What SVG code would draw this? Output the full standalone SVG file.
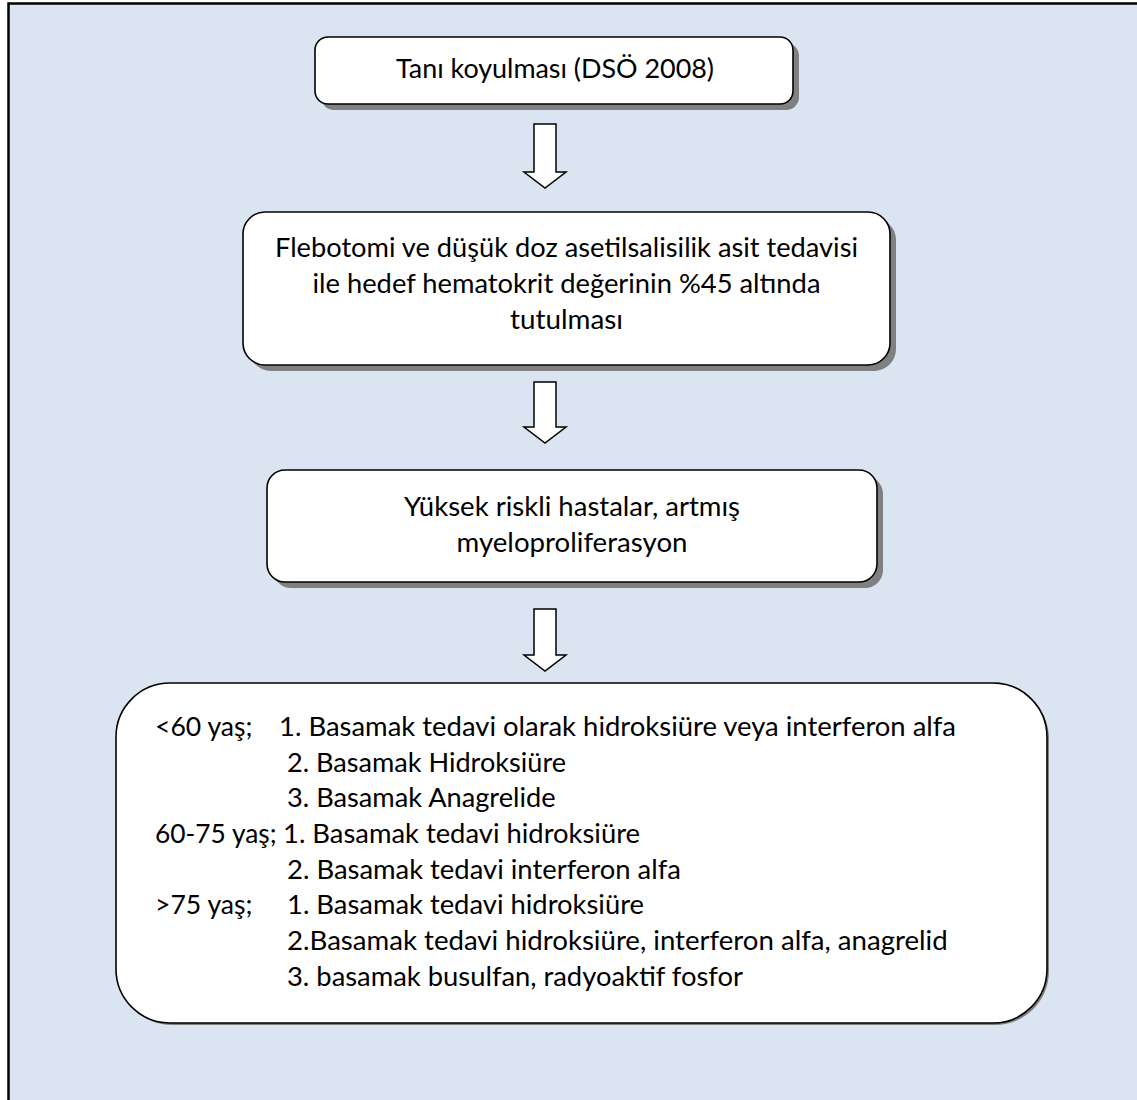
<svg xmlns="http://www.w3.org/2000/svg" width="1137" height="1100" viewBox="0 0 1137 1100">
<style>
.bg{fill:#dbe5f1;stroke:#000;stroke-width:2.5}
.box{fill:#fff;stroke:#000;stroke-width:1.6}
.sh{fill:#808080}
.arr{fill:#fff;stroke:#000;stroke-width:1.5;stroke-linejoin:miter}
text{font-family:Lato,"Open Sans","Liberation Sans",sans-serif;font-size:26.5px;fill:#000}
.c{text-anchor:middle}
</style>
<rect x="0" y="0" width="1137" height="1100" fill="#fff"/>
<rect class="bg" x="8.5" y="3.5" width="1140" height="1110"/>
<g id="connectors">
<polygon class="arr" points="534,124 556,124 556,172 566,172 545,188 524,172 534,172"/>
<polygon class="arr" points="534,382 556,382 556,427 566,427 545,443 524,427 534,427"/>
<polygon class="arr" points="534,609 556,609 556,655 566,655 545,671 524,655 534,655"/>
</g>
<g id="node1">
<rect class="sh" x="321" y="43" width="478" height="67" rx="13"/>
<rect class="box" x="315" y="37" width="478" height="67" rx="13"/>
<text class="c" x="555" y="78" textLength="318" lengthAdjust="spacingAndGlyphs">Tanı koyulması (DSÖ 2008)</text>
</g>
<g id="node2">
<rect class="sh" x="249" y="218" width="647" height="153" rx="22"/>
<rect class="box" x="243" y="212" width="647" height="153" rx="22"/>
<text class="c" x="566.5" y="257" textLength="583" lengthAdjust="spacingAndGlyphs">Flebotomi ve düşük doz asetilsalisilik asit tedavisi</text>
<text class="c" x="566.5" y="293" textLength="508" lengthAdjust="spacingAndGlyphs">ile hedef hematokrit değerinin %45 altında</text>
<text class="c" x="566.5" y="329" textLength="113" lengthAdjust="spacingAndGlyphs">tutulması</text>
</g>
<g id="node3">
<rect class="sh" x="273" y="476" width="610" height="112" rx="18"/>
<rect class="box" x="267" y="470" width="610" height="112" rx="18"/>
<text class="c" x="572" y="516" textLength="336" lengthAdjust="spacingAndGlyphs">Yüksek riskli hastalar, artmış</text>
<text class="c" x="572" y="552" textLength="231" lengthAdjust="spacingAndGlyphs">myeloproliferasyon</text>
</g>
<g id="node4">
<rect class="sh" x="118" y="685" width="931" height="340" rx="54"/>
<rect class="box" x="116" y="683" width="931" height="340" rx="54"/>
<text x="155" y="736" textLength="97.5" lengthAdjust="spacingAndGlyphs">&lt;60 yaş;</text>
<text x="279" y="736" textLength="677" lengthAdjust="spacingAndGlyphs">1. Basamak tedavi olarak hidroksiüre veya interferon alfa</text>
<text x="287" y="771.5" textLength="279" lengthAdjust="spacingAndGlyphs">2. Basamak Hidroksiüre</text>
<text x="287" y="807" textLength="268.6" lengthAdjust="spacingAndGlyphs">3. Basamak Anagrelide</text>
<text x="155" y="843" textLength="121.6" lengthAdjust="spacingAndGlyphs">60-75 yaş;</text>
<text x="283" y="843" textLength="357" lengthAdjust="spacingAndGlyphs">1. Basamak tedavi hidroksiüre</text>
<text x="287" y="878.5" textLength="393.8" lengthAdjust="spacingAndGlyphs">2. Basamak tedavi interferon alfa</text>
<text x="155" y="914" textLength="97.5" lengthAdjust="spacingAndGlyphs">&gt;75 yaş;</text>
<text x="287" y="914" textLength="357" lengthAdjust="spacingAndGlyphs">1. Basamak tedavi hidroksiüre</text>
<text x="287" y="950" textLength="660.7" lengthAdjust="spacingAndGlyphs">2.Basamak tedavi hidroksiüre, interferon alfa, anagrelid</text>
<text x="287" y="985.5" textLength="456" lengthAdjust="spacingAndGlyphs">3. basamak busulfan, radyoaktif fosfor</text>
</g>
</svg>
